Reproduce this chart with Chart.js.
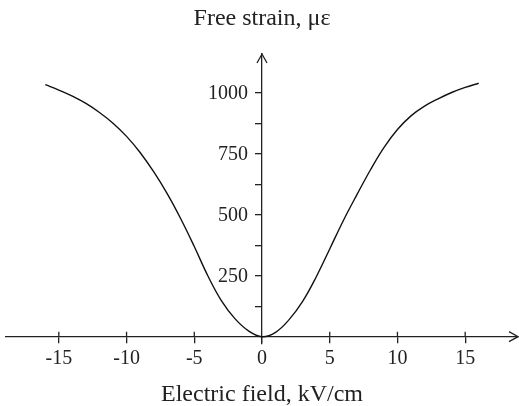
<!DOCTYPE html>
<html>
<head>
<meta charset="utf-8">
<script src="https://cdn.jsdelivr.net/npm/chart.js@4.4.1/dist/chart.umd.min.js"></script>
<style>
  html, body { margin: 0; padding: 0; background: #fff; }
  #wrap { width: 519px; height: 406px; }
</style>
</head>
<body>
<div id="wrap"><canvas id="strainChart"></canvas></div>
<script>
// Datos
const fieldKV = [-16, -15, -14, -13, -12, -11, -10, -9, -8, -7, -6, -5, -4, -3, -2, -1,
                 0, 1, 2, 3, 4, 5, 6, 7, 8, 9, 10, 11, 12, 13, 14, 15, 16];
const strainUe = [1034, 1012, 987, 957, 920, 876, 822, 756, 677, 587, 484, 370, 250, 148, 74, 24,
                  0, 18, 70, 145, 245, 360, 476, 582, 684, 776, 850, 906, 946, 976, 1002, 1023, 1040];

const xTickValues = [-15, -10, -5, 0, 5, 10, 15];
const yTickValues = [125, 250, 375, 500, 625, 750, 875, 1000];
const yLabelValues = [250, 500, 750, 1000];

const axisColor = '#222';
const serif = "'Liberation Serif', 'DejaVu Serif', serif";

// Flechas, parte superior de las marcas de x y etiquetas del eje y
const axisArrows = {
    id: 'axisArrows',
    afterDraw(chart) {
        const { ctx, chartArea, scales: { x, y } } = chart;
        const x0 = x.getPixelForValue(0);
        const y0 = y.getPixelForValue(0);
        ctx.save();
        ctx.strokeStyle = axisColor;
        ctx.lineWidth = 1.3;
        ctx.beginPath();
        xTickValues.forEach(v => {
            if (v === 0) return;
            const px = x.getPixelForValue(v);
            ctx.moveTo(px, y0);
            ctx.lineTo(px, y0 - 5);
        });
        ctx.moveTo(chartArea.right - 9, y0 - 5);
        ctx.lineTo(chartArea.right, y0);
        ctx.lineTo(chartArea.right - 9, y0 + 5);
        ctx.moveTo(x0 - 5, chartArea.top + 9);
        ctx.lineTo(x0, chartArea.top);
        ctx.lineTo(x0 + 5, chartArea.top + 9);
        ctx.stroke();

        // Etiquetas del eje y a la izquierda de las marcas
        ctx.fillStyle = axisColor;
        ctx.font = `20px ${serif}`;
        ctx.textAlign = 'right';
        ctx.textBaseline = 'middle';
        yLabelValues.forEach(v => {
            ctx.fillText(String(v), x0 - 14, y.getPixelForValue(v) + 1);
        });
        ctx.restore();
    }
};

new Chart(document.getElementById('strainChart'), {
    type: 'line',
    data: {
        datasets: [{
            data: fieldKV.map((v, i) => ({ x: v, y: strainUe[i] })),
            borderColor: '#111',
            borderWidth: 1.4,
            pointRadius: 0,
            tension: 0.4,
            fill: false
        }]
    },
    options: {
        responsive: true,
        maintainAspectRatio: false,
        animation: false,
        layout: {
            padding: { left: 6, right: 1, top: 0, bottom: 0 }
        },
        scales: {
            x: {
                type: 'linear',
                position: { y: 0 },
                min: -18.9,
                max: 18.9,
                afterBuildTicks: scale => {
                    scale.ticks = xTickValues.map(v => ({ value: v }));
                },
                border: { color: axisColor, width: 1.3 },
                grid: {
                    drawOnChartArea: false,
                    color: axisColor,
                    lineWidth: 1.3,
                    tickLength: 6
                },
                ticks: {
                    color: axisColor,
                    padding: 4,
                    maxRotation: 0,
                    font: { family: serif, size: 20 }
                }
            },
            y: {
                type: 'linear',
                position: { x: 0 },
                min: -30,
                max: 1160,
                afterBuildTicks: scale => {
                    scale.ticks = yTickValues.map(v => ({ value: v }));
                },
                border: { color: axisColor, width: 1.3 },
                grid: {
                    drawOnChartArea: false,
                    color: axisColor,
                    lineWidth: 1.3,
                    tickLength: 6
                },
                ticks: { display: false }
            }
        },
        plugins: {
            legend: { display: false },
            tooltip: { enabled: false },
            title: {
                display: true,
                text: 'Free strain, με',
                color: axisColor,
                font: { family: serif, size: 24, weight: 'normal', lineHeight: 1 },
                padding: { top: 7, bottom: 23 }
            },
            subtitle: {
                display: true,
                position: 'bottom',
                text: 'Electric field, kV/cm',
                color: axisColor,
                font: { family: serif, size: 24, weight: 'normal', lineHeight: 1 },
                padding: { top: 39, bottom: -1 }
            }
        }
    },
    plugins: [axisArrows]
});
</script>
</body>
</html>
